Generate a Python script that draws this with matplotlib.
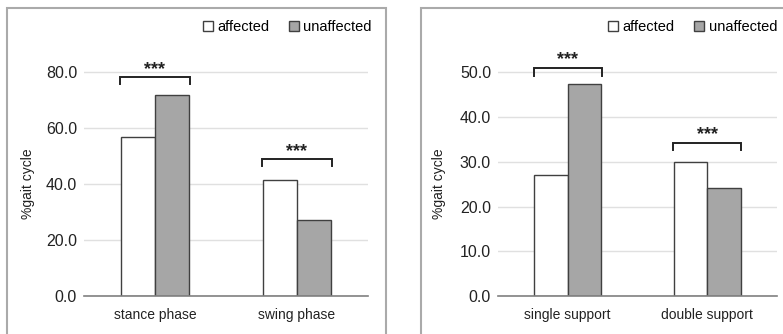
import numpy as np
import matplotlib
matplotlib.use("Agg")
import matplotlib.pyplot as plt
from matplotlib.patches import Rectangle, Patch

plt.rcParams['font.family'] = ['Liberation Sans', 'DejaVu Sans']

# data
left_cats = ['stance phase', 'swing phase']
left_affected = [56.8, 41.3]
left_unaffected = [71.7, 27.0]
left_brackets = [78.2, 48.8]
left_ticks = [0, 20, 40, 60, 80]

right_cats = ['single support', 'double support']
right_affected = [27.0, 30.0]
right_unaffected = [47.4, 24.2]
right_brackets = [50.9, 34.3]
right_ticks = [0, 10, 20, 30, 40, 50]

W, H = 783, 334
fig = plt.figure(figsize=(W / 100, H / 100), dpi=100)

EDGE = '#404040'
GRAY = '#a6a6a6'
TXT = '#222222'


def px(x0, y0, x1, y1):
    # pixel box (top-left origin) -> figure fraction rect
    return [x0 / W, 1 - y1 / H, (x1 - x0) / W, (y1 - y0) / H]


def panel(rect, cats, aff, unaff, brackets, ticks, ymax, drop, star_gap, label_x):
    ax = fig.add_axes(rect)
    x = np.arange(len(cats))
    w = 0.24
    ax.bar(x - w / 2, aff, w, color='white', edgecolor=EDGE, linewidth=1.0, zorder=3)
    ax.bar(x + w / 2, unaff, w, color=GRAY, edgecolor=EDGE, linewidth=1.0, zorder=3)
    ax.set_xlim(-0.5, len(cats) - 0.5)
    ax.set_ylim(0, ymax)
    ax.set_yticks(ticks)
    ax.set_yticklabels(['%.1f' % t for t in ticks], fontsize=11.5, color=TXT)
    ax.set_xticks(x)
    ax.set_xticklabels(cats, fontsize=10, color=TXT)
    ax.tick_params(axis='both', length=0)
    ax.tick_params(axis='y', pad=5)
    ax.tick_params(axis='x', pad=9)
    ax.yaxis.grid(True, color='#e0e0e0', linewidth=1.0, zorder=0)
    for s in ['top', 'right', 'left']:
        ax.spines[s].set_visible(False)
    ax.spines['bottom'].set_color('#808080')
    ax.spines['bottom'].set_linewidth(1.2)
    ax.spines['bottom'].set_zorder(4)
    ax.set_ylabel('%gait cycle', fontsize=10, color=TXT)
    ax.yaxis.set_label_coords(label_x, 0.4)
    # significance brackets
    for xi, b in zip(x, brackets):
        ax.plot([xi - 0.245, xi - 0.245, xi + 0.245, xi + 0.245],
                [b - drop, b, b, b - drop], color=TXT, lw=1.4,
                clip_on=False, zorder=5, solid_joinstyle='miter')
        ax.text(xi, b + star_gap, '***', ha='center', va='center',
                fontsize=13, fontweight='bold', color=TXT)
    return ax


ax1 = panel(px(84, 16, 368, 296), left_cats, left_affected, left_unaffected,
            left_brackets, left_ticks, 100, 2.5, 2.7, -49 / 284)
ax2 = panel(px(498, 16, 777, 296), right_cats, right_affected, right_unaffected,
            right_brackets, right_ticks, 280 / 4.47, 1.7, 1.9, -52 / 279)

handles = [Patch(facecolor='white', edgecolor=EDGE, linewidth=1.0, label='affected'),
           Patch(facecolor=GRAY, edgecolor=EDGE, linewidth=1.0, label='unaffected')]
for right_px in (372, 777):
    fig.legend(handles=handles, loc='upper right',
               bbox_to_anchor=(right_px / W, 1 - 20 / H), ncol=2, frameon=False,
               fontsize=10.5, handlelength=0.7, handleheight=0.7,
               handletextpad=0.3, columnspacing=1.3, borderpad=0,
               borderaxespad=0)

# light panel frames
for x0, x1 in ((7, 386), (421, 800)):
    fig.patches.append(Rectangle((x0 / W, -0.1), (x1 - x0) / W, 1.1 - 8 / H,
                                 transform=fig.transFigure, fill=False,
                                 edgecolor='#aaaaaa', linewidth=1.5, zorder=0))

fig.savefig('out.png', dpi=100)
